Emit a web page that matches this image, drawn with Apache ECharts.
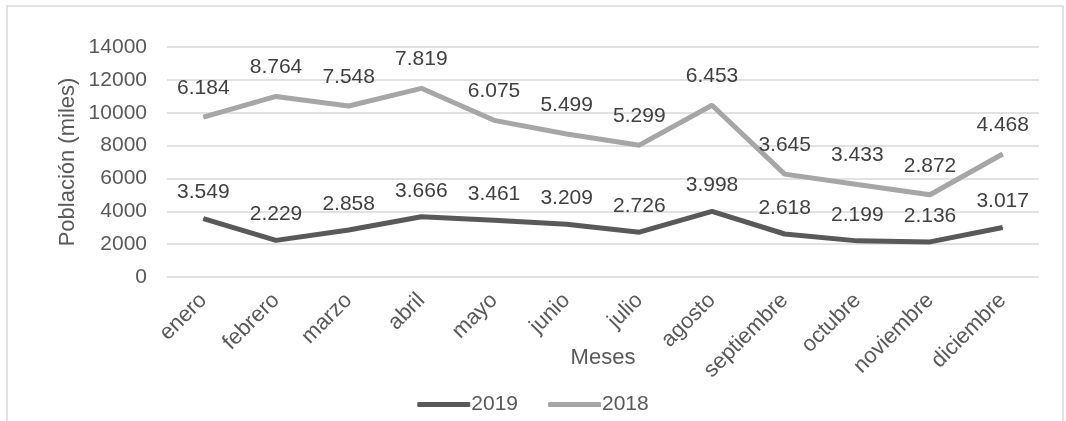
<!DOCTYPE html>
<html>
<head>
<meta charset="utf-8">
<script src="https://cdn.jsdelivr.net/npm/echarts@6/dist/echarts.min.js"></script>
<style>
html,body{margin:0;padding:0;background:#fff;}
#chart{width:1066px;height:421px;}
</style>
</head>
<body>
<div id="chart"></div>
<script>
const categories = ['enero','febrero','marzo','abril','mayo','junio','julio','agosto','septiembre','octubre','noviembre','diciembre'];
const values2019 = [3549,2229,2858,3666,3461,3209,2726,3998,2618,2199,2136,3017];
const values2018 = [6184,8764,7548,7819,6075,5499,5299,6453,3645,3433,2872,4468];
const yTicks = {min:0, max:14000, interval:2000};

function fmt(v){ return String(v).replace(/\B(?=(\d{3})+(?!\d))/g,'.'); }

const chart = echarts.init(document.getElementById('chart'));
const font = '"Liberation Sans", Arial, sans-serif';
chart.setOption({
  backgroundColor:'#fff',
  animation:false,
  textStyle:{fontFamily:font},
  graphic:[{type:'rect',shape:{x:7,y:6,width:1056,height:430},style:{fill:'none',stroke:'#d9d9d9',lineWidth:1.5},silent:true}],
  grid:{left:167,right:27,top:47,bottom:144},
  legend:{
    data:['2019','2018'],
    top:389, left:'center',
    icon:'roundRect', itemWidth:53, itemHeight:5, itemGap:30,
    textStyle:{fontFamily:font,fontSize:21,color:'#595959',padding:[0,0,0,-4]}
  },
  xAxis:{
    type:'category', data:categories, boundaryGap:true,
    name:'Meses', nameLocation:'middle', nameGap:70, nameMoveOverlap:false,
    nameTextStyle:{fontFamily:font,fontSize:22,color:'#595959'},
    axisLine:{show:false}, axisTick:{show:false},
    axisLabel:{rotate:45, fontFamily:font, fontSize:22, color:'#595959', margin:20, interval:0}
  },
  yAxis:{
    type:'value', min:yTicks.min, max:yTicks.max, interval:yTicks.interval,
    name:'Población (miles)', nameLocation:'middle', nameGap:88, nameMoveOverlap:false,
    nameTextStyle:{fontFamily:font,fontSize:22,color:'#595959'},
    axisLine:{show:false}, axisTick:{show:false},
    axisLabel:{fontFamily:font,fontSize:21,color:'#595959',margin:20,formatter:v=>String(v)},
    splitLine:{lineStyle:{color:'#d9d9d9',width:1.5}}
  },
  series:[
    {name:'2019',type:'line',stack:'total',data:values2019,symbol:'circle',symbolSize:1,showSymbol:true,
     lineStyle:{color:'#595959',width:5},itemStyle:{color:'#595959'},
     label:{show:true,position:'top',distance:15,fontFamily:font,fontSize:21,color:'#404040',formatter:p=>fmt(p.value)}},
    {name:'2018',type:'line',stack:'total',data:values2018,symbol:'circle',symbolSize:1,showSymbol:true,
     lineStyle:{color:'#a6a6a6',width:5},itemStyle:{color:'#a6a6a6'},
     label:{show:true,position:'top',distance:18,fontFamily:font,fontSize:21,color:'#404040',formatter:p=>fmt(p.value)}}
  ]
});
</script>
</body>
</html>
